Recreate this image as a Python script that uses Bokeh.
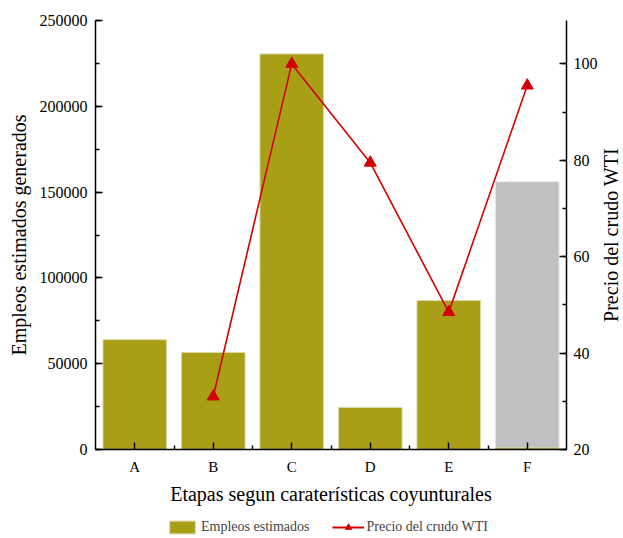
import math
from bokeh.plotting import figure
from bokeh.layouts import column, row
from bokeh.models import (Range1d, LinearAxis, FixedTicker, Legend, LegendItem,
                          ColumnDataSource, Label)
from bokeh.embed import file_html
from bokeh.resources import INLINE

# ---- data ----
categories = ["A", "B", "C", "D", "E", "F"]
empleos = [64000, 56500, 230500, 24500, 86800, 1000]
empleos_gris = [0, 0, 0, 0, 0, 156000]
precio_cats = ["B", "C", "D", "E", "F"]
precio_wti = [31, 100, 79.5, 48.5, 95.5]

FONT = "Liberation Serif"
OLIVE = "#A89F17"
GRAY = "#C0C0C0"
RED = "#D40000"

xpos = [i + 0.5 for i in range(len(categories))]
pxpos = [categories.index(c) + 0.5 for c in precio_cats]

p = figure(frame_width=471, frame_height=429, output_backend="svg", toolbar_location=None,
           x_range=Range1d(0, len(categories)), y_range=Range1d(0, 250000),
           min_border_left=95, min_border_right=35, min_border_top=20,
           min_border_bottom=61)
p.outline_line_color = None
p.xgrid.visible = False
p.ygrid.visible = False
p.background_fill_color = "white"
p.border_fill_color = "white"

p.extra_y_ranges = {"wti": Range1d(20, 109)}

src = ColumnDataSource(dict(x=xpos, emp=empleos, gris=empleos_gris))
gray_r = p.vbar(x="x", top="gris", width=0.81, source=src, fill_color=GRAY,
                line_color="#E6E6E6", line_width=1)
bar_r = p.vbar(x="x", top="emp", width=0.81, source=src, fill_color=OLIVE,
               line_color="#DCD8A8", line_width=1)

line_r = p.line(pxpos, precio_wti, y_range_name="wti", line_color=RED, line_width=1.6)
mark_r = p.scatter(pxpos, precio_wti, y_range_name="wti", marker="triangle",
                   size=12, fill_color=RED, line_color=RED)

def style_axis(ax):
    ax.axis_line_color = "black"
    ax.axis_line_width = 1.5
    ax.major_tick_line_color = "black"
    ax.minor_tick_line_color = "black"
    ax.major_tick_line_width = 1.5
    ax.minor_tick_line_width = 1.5
    ax.major_tick_in = 7
    ax.major_tick_out = 0
    ax.minor_tick_in = 4
    ax.minor_tick_out = 0
    ax.major_label_text_font = FONT
    ax.major_label_text_font_size = "16px"
    ax.major_label_text_color = "black"
    ax.axis_label_text_font = FONT
    ax.axis_label_text_font_size = "20px"
    ax.axis_label_text_font_style = "normal"
    ax.axis_label_text_color = "black"

# x axis
xa = p.xaxis[0]
style_axis(xa)
xa.ticker = FixedTicker(ticks=xpos, minor_ticks=list(range(1, len(categories))))
xa.major_label_overrides = {x: c for x, c in zip(xpos, categories)}
xa.major_label_text_font_size = "15px"
xa.major_label_standoff = 9
xa.axis_label = "Etapas segun caraterísticas coyunturales"
xa.axis_label_standoff = 5

# left axis
ya = p.yaxis[0]
style_axis(ya)
ya.ticker = FixedTicker(ticks=[0, 50000, 100000, 150000, 200000, 250000],
                        minor_ticks=list(range(0, 250001, 25000)))
ya.formatter.use_scientific = False
ya.axis_label = "Empleos estimados generados"
ya.major_label_standoff = 8
ya.axis_label_standoff = 7

# right axis (its title is drawn in the narrow strip beside it)
ra = LinearAxis(y_range_name="wti")
style_axis(ra)
ra.ticker = FixedTicker(ticks=[20, 40, 60, 80, 100], minor_ticks=list(range(20, 110, 10)))
ra.major_label_standoff = 7
p.add_layout(ra, "right")

# ---- right-axis title strip ----
side = figure(width=22, height=510, output_backend="svg", toolbar_location=None,
              x_axis_location=None, y_axis_location=None,
              min_border_left=0, min_border_right=0, min_border_top=20, min_border_bottom=61,
              x_range=Range1d(0, 1), y_range=Range1d(0, 1))
side.outline_line_color = None
side.xgrid.visible = False
side.ygrid.visible = False
side.background_fill_color = None
side.border_fill_color = None
side.add_layout(Label(x=0.45, y=0.5, text="Precio del crudo WTI", angle=math.pi / 2,
                      text_align="center", text_baseline="middle",
                      text_font=FONT, text_font_size="20px", text_color="black"))

# ---- legend strip (separate small figure; proxies lie outside its visible range) ----
lg = figure(width=623, height=28, output_backend="svg", toolbar_location=None,
            x_axis_location=None, y_axis_location=None,
            min_border_left=95, min_border_right=57, min_border_top=0, min_border_bottom=0,
            x_range=Range1d(0, 1), y_range=Range1d(0, 1))
lg.outline_line_color = None
lg.xgrid.visible = False
lg.ygrid.visible = False
lg.background_fill_color = None
lg.border_fill_color = None
lg_bar = lg.vbar(x=[-10], top=[-5], bottom=[-6], width=0.5, fill_color=OLIVE,
                 line_color="#DCD8A8")
lg_line = lg.line(x=[-10, -9], y=[-5, -5], line_color=RED, line_width=1.8)
lg_mark = lg.scatter(x=[-10], y=[-5], marker="triangle", size=13,
                     fill_color=RED, line_color=RED)

legend = Legend(items=[LegendItem(label="Empleos estimados", renderers=[lg_bar]),
                       LegendItem(label="Precio del crudo WTI", renderers=[lg_line, lg_mark])],
                orientation="horizontal", location=(71, 3),
                label_text_font=FONT, label_text_font_size="14px",
                glyph_width=32, glyph_height=16, spacing=22,
                border_line_color=None, background_fill_alpha=0,
                padding=0, margin=0, label_standoff=3)
lg.add_layout(legend, "center")

layout = column(row(p, side, spacing=0), lg, spacing=0)
open("out.html", "w").write(file_html(layout, INLINE))
